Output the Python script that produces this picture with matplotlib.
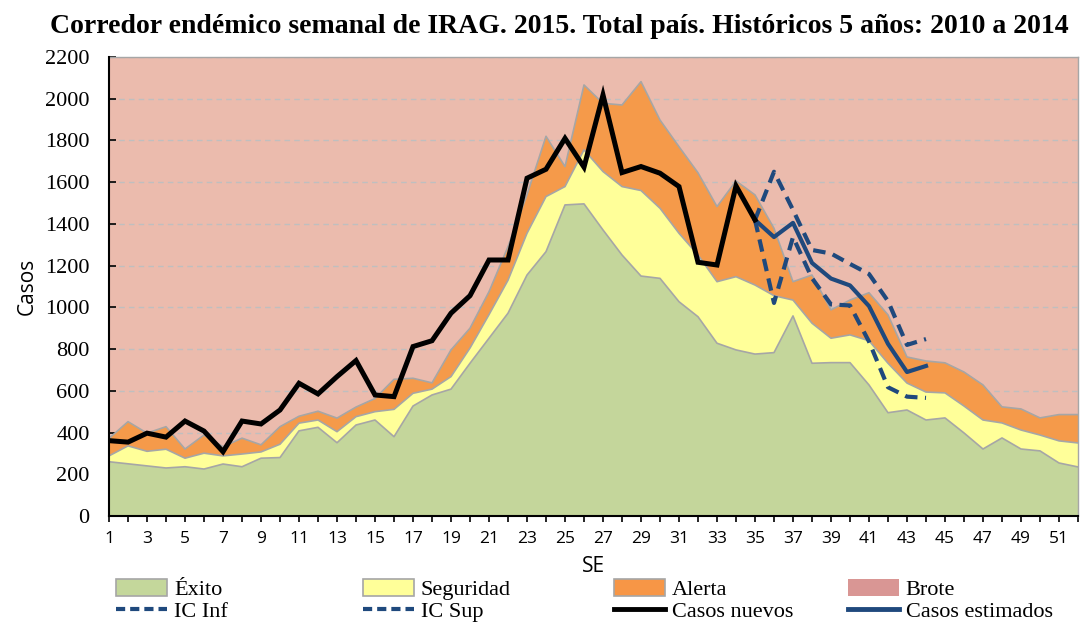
import numpy as np
import matplotlib
matplotlib.use("Agg")
import matplotlib.pyplot as plt
from matplotlib.patches import Patch
from matplotlib.lines import Line2D

# Semanas epidemiológicas
semanas = np.arange(1, 53)

# Límites del corredor (valores superiores de cada zona)
limite_exito = [260, 250, 240, 230, 236, 225, 249, 236, 277, 280,
                408, 425, 351, 436, 460, 380, 527, 580, 608, 732,
                852, 972, 1155, 1267, 1491, 1496, 1371, 1251, 1150, 1139,
                1027, 955, 828, 796, 776, 783, 959, 732, 735, 735,
                628, 495, 508, 460, 470, 398, 321, 374, 321, 312,
                254, 235]
limite_seguridad = [288, 336, 310, 320, 277, 301, 288, 297, 307, 344,
                    445, 460, 404, 476, 500, 511, 588, 608, 668, 805,
                    965, 1130, 1355, 1531, 1579, 1755, 1651, 1579, 1560, 1475,
                    1355, 1251, 1123, 1147, 1107, 1056, 1035, 924, 852, 868,
                    840, 732, 637, 594, 590, 527, 460, 446, 412, 388,
                    360, 350]
limite_alerta = [372, 452, 397, 428, 321, 388, 332, 373, 341, 428,
                 478, 502, 469, 522, 563, 655, 660, 638, 796, 900,
                 1075, 1291, 1540, 1820, 1675, 2066, 1978, 1970, 2082, 1898,
                 1770, 1645, 1483, 1606, 1539, 1379, 1123, 1155, 988, 1035,
                 1070, 964, 762, 743, 734, 690, 628, 523, 513, 470,
                 486, 486]
limite_brote = 2200

# Casos observados (semanas 1 a 35)
casos_nuevos = [361, 354, 397, 378, 455, 407, 308, 455, 441, 508,
                636, 585, 668, 745, 580, 572, 812, 840, 972, 1056,
                1227, 1227, 1619, 1662, 1810, 1672, 2018, 1646, 1675, 1643,
                1579, 1216, 1203, 1582, 1419]

# Estimación e intervalos (semanas 35 a 44)
semanas_est = np.arange(35, 45)
casos_estimados = [1419, 1337, 1405, 1213, 1138, 1105, 1006, 825, 690, 719]
ic_inf = [1419, 1021, 1337, 1140, 1014, 1009, 836, 617, 572, 566]
ic_sup = [1419, 1650, 1467, 1275, 1258, 1208, 1160, 1030, 820, 848]

col_exito = "#C4D69B"
col_seguridad = "#FFFF99"
col_alerta = "#F59A4A"
col_brote = "#EBBBAD"
col_borde = "#A6A6A6"
col_azul = "#1F497D"

fig = plt.figure(figsize=(10.88, 6.23), dpi=100)
ax = fig.add_axes([0.1002, 0.1718, 0.8906, 0.7367])

ax.fill_between(semanas, limite_alerta, limite_brote, color=col_brote, lw=0, zorder=0.5)
ax.set_yticks(np.arange(0, 2201, 200))
ax.grid(axis="y", color="#BFBFBF", linestyle=(0, (4, 3)), linewidth=1, zorder=1)
ax.fill_between(semanas, 0, limite_exito, facecolor=col_exito, edgecolor="none", zorder=2)
ax.fill_between(semanas, limite_exito, limite_seguridad, facecolor=col_seguridad, edgecolor="none", zorder=2)
ax.fill_between(semanas, limite_seguridad, limite_alerta, facecolor=col_alerta, edgecolor="none", zorder=2)
for lim in (limite_exito, limite_seguridad, limite_alerta):
    ax.plot(semanas, lim, color=col_borde, lw=1.2, zorder=2.5)

ax.plot(semanas[:len(casos_nuevos)], casos_nuevos, color="black", lw=3.6, zorder=4,
        solid_joinstyle="miter")
ax.plot(semanas_est, ic_inf, color=col_azul, lw=3, ls=(0, (3, 1.8)), zorder=3.5)
ax.plot(semanas_est, ic_sup, color=col_azul, lw=3, ls=(0, (3, 1.8)), zorder=3.5)
ax.plot(semanas_est, casos_estimados, color=col_azul, lw=3, zorder=3.6)

ax.set_xlim(1, 52)
ax.set_ylim(0, 2200)
ax.set_xticks(semanas, minor=False)
ax.set_xticklabels([str(s) if s % 2 == 1 else "" for s in semanas],
                   fontfamily="Open Sans", fontsize=12.5)
ax.tick_params(axis="x", direction="inout", length=9, width=1.2, pad=6)
ax.tick_params(axis="y", direction="in", length=5, width=1.2, pad=14)
for lbl in ax.get_yticklabels():
    lbl.set_fontfamily("Liberation Serif")
    lbl.set_fontsize(16)

for s in ("left", "bottom"):
    ax.spines[s].set_linewidth(1.5)
    ax.spines[s].set_zorder(5)
for s in ("top", "right"):
    ax.spines[s].set_color(col_borde)
    ax.spines[s].set_linewidth(1)

ax.set_ylabel("Casos", fontfamily="Open Sans", fontsize=15, labelpad=5)
ax.set_xlabel("SE", fontfamily="Open Sans", fontsize=15, labelpad=7)

fig.text(0.514, 0.958, "Corredor endémico semanal de IRAG. 2015. Total país. Históricos 5 años: 2010 a 2014",
         ha="center", va="center", fontfamily="Liberation Serif", fontweight="bold", fontsize=20)

# Leyenda en cuatro columnas de dos filas
columnas = [
    [Patch(facecolor="#C4D79B", edgecolor=col_borde, lw=1.2, label="Éxito"),
     Line2D([], [], color=col_azul, lw=3, ls=(0, (2.2, 1.2)), label="IC Inf")],
    [Patch(facecolor="#FFFF99", edgecolor=col_borde, lw=1.2, label="Seguridad"),
     Line2D([], [], color=col_azul, lw=3, ls=(0, (2.2, 1.2)), label="IC Sup")],
    [Patch(facecolor="#F79646", edgecolor=col_borde, lw=1.2, label="Alerta"),
     Line2D([], [], color="black", lw=3.5, label="Casos nuevos")],
    [Patch(facecolor="#D99694", edgecolor="none", label="Brote"),
     Line2D([], [], color=col_azul, lw=3.5, label="Casos estimados")],
]
x_cols = [0.0965, 0.3235, 0.554, 0.769]
for xc, handles in zip(x_cols, columnas):
    leg = fig.legend(handles=handles, loc="upper left", bbox_to_anchor=(xc, 0.089),
                     frameon=False, ncol=1, handlelength=2.3, handleheight=0.8,
                     handletextpad=0.3, labelspacing=0.05, borderpad=0,
                     prop={"family": "Liberation Serif", "size": 16})

fig.savefig("out.png", dpi=100)
